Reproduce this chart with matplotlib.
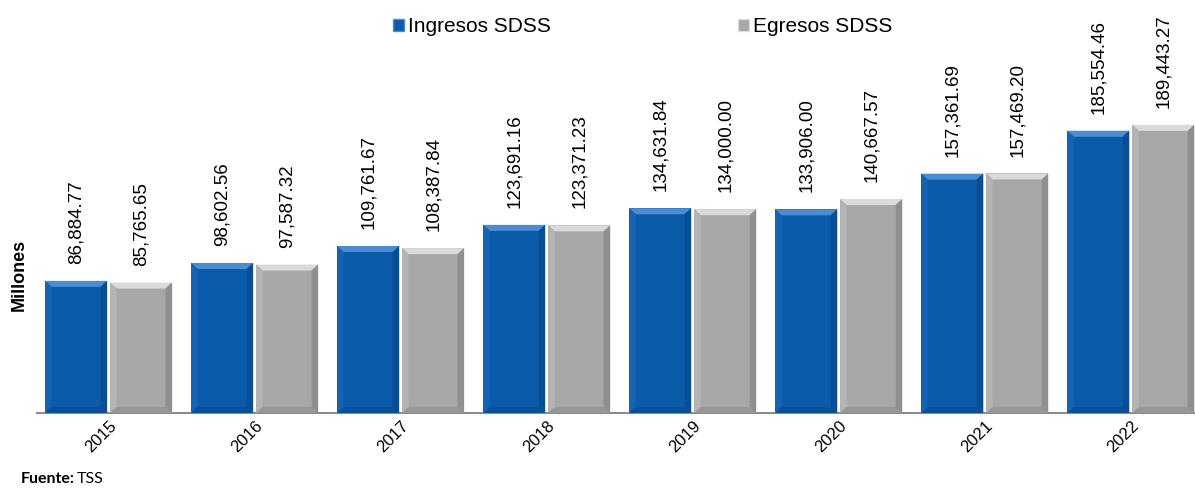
import matplotlib.pyplot as plt
import matplotlib.patches as mpatches
import numpy as np

plt.rcParams['font.family'] = ['Liberation Sans', 'DejaVu Sans']

years = ['2015', '2016', '2017', '2018', '2019', '2020', '2021', '2022']
ingresos = [86884.77, 98602.56, 109761.67, 123691.16, 134631.84, 133906.00, 157361.69, 185554.46]
egresos = [85765.65, 97587.32, 108387.84, 123371.23, 134000.00, 140667.57, 157469.20, 189443.27]

fig = plt.figure(figsize=(11.95, 4.97), dpi=100)
ax = fig.add_axes([0.031, 0.169, 0.969, 0.811])

x = np.arange(len(years))
w = 0.425
off = 0.2225
ymax = 265000
bx = 0.045
by = ymax / 403 * 6

def bevel_bars(xs, vals, face, top, left, right, bottom, label):
    bars = ax.bar(xs, vals, width=w, color=face, label=label, zorder=2)
    for xc, v in zip(xs, vals):
        x0, x1 = xc - w / 2, xc + w / 2
        polys = [
            ([(x0, v), (x1, v), (x1 - bx, v - by), (x0 + bx, v - by)], top),
            ([(x0, 0), (x0, v), (x0 + bx, v - by), (x0 + bx, by)], left),
            ([(x1, 0), (x1, v), (x1 - bx, v - by), (x1 - bx, by)], right),
            ([(x0, 0), (x1, 0), (x1 - bx, by), (x0 + bx, by)], bottom),
        ]
        for pts, c in polys:
            ax.add_patch(mpatches.Polygon(pts, closed=True, facecolor=c, edgecolor='none', zorder=3))
        ax.text(xc, v + ymax * 0.042, f'{v:,.2f}', rotation=90, ha='center', va='bottom',
                fontsize=13.5, color='black')
    return bars

bevel_bars(x - off, ingresos, '#0B5BAB', '#4A8DD2', '#1563B2', '#084E95', '#0A4F97', 'Ingresos SDSS')
bevel_bars(x + off, egresos, '#A7A7A7', '#DADADA', '#B4B4B4', '#8F8F8F', '#979797', 'Egresos SDSS')

ax.set_xlim(-0.49, 7.44)
ax.set_ylim(0, ymax)
ax.set_yticks([])
ax.set_xticks(x)
ax.set_xticklabels(years, rotation=45, ha='right', rotation_mode='anchor', fontsize=12)
ax.tick_params(axis='x', length=0, pad=4)
for s in ['top', 'right', 'left']:
    ax.spines[s].set_visible(False)
ax.spines['bottom'].set_color('#8C8C8C')
ax.spines['bottom'].set_linewidth(1.5)

handles = [mpatches.Patch(facecolor='#0B5BAB', edgecolor='#4A8DD2'),
           mpatches.Patch(facecolor='#A7A7A7', edgecolor='#DADADA')]
fig.legend(handles, ['Ingresos SDSS', 'Egresos SDSS'], loc='center', bbox_to_anchor=(0.538, 0.946),
           ncol=2, frameon=False, fontsize=15, handlelength=0.5, handleheight=0.5,
           handletextpad=0.2, columnspacing=9.0)

fig.text(0.016, 0.447, 'Millones', rotation=90, ha='center', va='center', fontsize=13, fontweight='bold')
fig.text(0.017, 0.028, 'Fuente:', fontsize=11.5, fontweight='bold', family=['Lato', 'DejaVu Sans'])
fig.text(0.064, 0.028, 'TSS', fontsize=11.5, family=['Lato', 'DejaVu Sans'])

fig.savefig('out.png', dpi=100)
